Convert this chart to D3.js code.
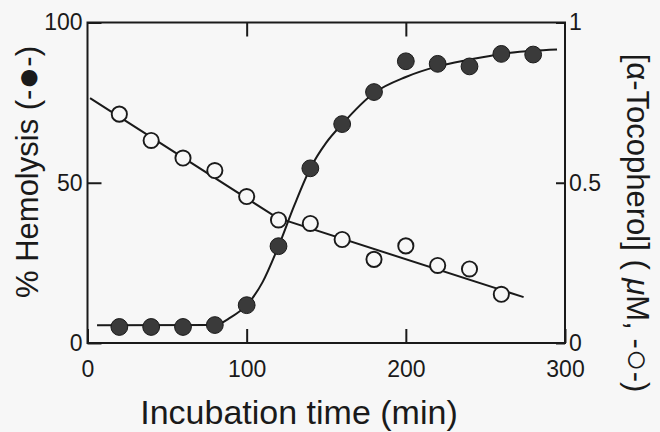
<!DOCTYPE html>
<html>
<head>
<meta charset="utf-8">
<script src="https://cdn.jsdelivr.net/npm/d3@7"></script>
<style>
  html, body { margin: 0; padding: 0; background: #f7f7f7; }
  svg { display: block; }
  text { font-family: "Liberation Sans", Arial, Helvetica, sans-serif; fill: #1a1a1a; }
</style>
</head>
<body>
<div id="chart"></div>
<script>
// measured points (min)
const hemoTimes = [20, 40, 60, 80, 100, 120, 140, 160, 180, 200, 220, 240, 260, 280];
const hemolysis = [5.0, 5.0, 5.0, 5.6, 11.8, 30.2, 54.5, 68.3, 78.3, 87.9, 87.1, 86.3, 90.2, 90.0];

const tocoTimes = [20, 40, 60, 80, 100, 120, 140, 160, 180, 200, 220, 240, 260];
const tocopherol = [0.714, 0.632, 0.577, 0.538, 0.457, 0.384, 0.373, 0.323, 0.261, 0.303, 0.242, 0.231, 0.152];

// hand drawn sigmoid through the hemolysis data
const curveTimes = [6, 80, 90, 100, 110, 120, 130, 140, 150, 160, 180, 200, 220, 240, 260, 280, 295];
const curveHemo = [5.5, 5.6, 8.0, 11.8, 19.0, 30.2, 43.0, 54.5, 62.5, 68.3, 78.0, 83.0, 86.3, 88.4, 90.2, 91.2, 91.6];

// two straight fit segments through the tocopherol data
const fitTimes = [1.6, 119, 274];
const fitToco = [0.764, 0.391, 0.143];

const xTicks = [0, 100, 200, 300];
const leftTicks = [0, 50, 100];
const rightTicks = [0, 0.5, 1];

const width = 660, height = 432;
const margin = { top: 22.5, right: 95, bottom: 89, left: 87.5 };

const svg = d3.select("#chart").append("svg")
  .attr("width", width)
  .attr("height", height);

svg.append("rect")
  .attr("width", width).attr("height", height)
  .attr("fill", "#f7f7f7");

const x = d3.scaleLinear().domain([0, 300]).range([margin.left, width - margin.right]);
const yL = d3.scaleLinear().domain([0, 100]).range([height - margin.bottom, margin.top]);
const yR = d3.scaleLinear().domain([0, 1]).range([height - margin.bottom, margin.top]);

// axes (ticks point inward)
const axisStyle = (g) => {
  g.select(".domain").remove();
  g.selectAll(".tick line").attr("stroke", "#1a1a1a").attr("stroke-width", 2);
  g.selectAll(".tick text").attr("font-size", 23).attr("fill", "#1a1a1a");
};

svg.append("g")
  .attr("transform", `translate(0,${yL(0)})`)
  .call(d3.axisBottom(x).tickValues(xTicks).tickSize(-14).tickPadding(18).tickFormat(d3.format("d")))
  .call(axisStyle);

svg.append("g")
  .attr("transform", `translate(0,${yL(100)})`)
  .call(d3.axisTop(x).tickValues([100, 200]).tickSize(-14).tickFormat(""))
  .call(axisStyle);

svg.append("g")
  .attr("transform", `translate(${x(0)},0)`)
  .call(d3.axisLeft(yL).tickValues(leftTicks).tickSize(-14).tickPadding(5).tickFormat(d3.format("d")))
  .call(axisStyle);

svg.append("g")
  .attr("transform", `translate(${x(300)},0)`)
  .call(d3.axisRight(yR).tickValues(rightTicks).tickSize(-9).tickPadding(4).tickFormat((d) => d === 0.5 ? "0.5" : d3.format("d")(d)))
  .call(axisStyle);

// frame
svg.append("rect")
  .attr("x", x(0)).attr("y", yL(100))
  .attr("width", x(300) - x(0)).attr("height", yL(0) - yL(100))
  .attr("fill", "none")
  .attr("stroke", "#1a1a1a")
  .attr("stroke-width", 2);

// fit lines
const hemoCurve = curveTimes.map((t, i) => [t, curveHemo[i]]);
svg.append("path")
  .datum(hemoCurve)
  .attr("fill", "none")
  .attr("stroke", "#1a1a1a")
  .attr("stroke-width", 2)
  .attr("d", d3.line().x((d) => x(d[0])).y((d) => yL(d[1])).curve(d3.curveMonotoneX));

const tocoLine = fitTimes.map((t, i) => [t, fitToco[i]]);
svg.append("path")
  .datum(tocoLine)
  .attr("fill", "none")
  .attr("stroke", "#1a1a1a")
  .attr("stroke-width", 2)
  .attr("d", d3.line().x((d) => x(d[0])).y((d) => yR(d[1])));

// open circles: tocopherol
svg.append("g").selectAll("circle")
  .data(tocoTimes.map((t, i) => ({ t, v: tocopherol[i] })))
  .join("circle")
  .attr("cx", (d) => x(d.t))
  .attr("cy", (d) => yR(d.v))
  .attr("r", 7.6)
  .attr("fill", "#f7f7f7")
  .attr("stroke", "#1a1a1a")
  .attr("stroke-width", 1.9);

// filled circles: hemolysis
svg.append("g").selectAll("circle")
  .data(hemoTimes.map((t, i) => ({ t, v: hemolysis[i] })))
  .join("circle")
  .attr("cx", (d) => x(d.t))
  .attr("cy", (d) => yL(d.v))
  .attr("r", 8.4)
  .attr("fill", "#3a3a3a")
  .attr("stroke", "#1a1a1a")
  .attr("stroke-width", 1);

// axis titles
svg.append("text")
  .attr("x", 299).attr("y", 424)
  .attr("text-anchor", "middle")
  .attr("font-size", 34)
  .text("Incubation time (min)");

const lt = svg.append("text")
  .attr("transform", "translate(38,172) rotate(-90)")
  .attr("text-anchor", "middle")
  .attr("font-size", 31);
lt.append("tspan").text("% Hemolysis (-");
lt.append("tspan").attr("font-size", 38).attr("dy", 2).text("●");
lt.append("tspan").attr("dy", -2).text("-)");

const rt = svg.append("text")
  .attr("transform", "translate(627,223) rotate(90)")
  .attr("text-anchor", "middle")
  .attr("font-size", 31);
rt.append("tspan").text("[α-Tocopherol] ( ");
rt.append("tspan").attr("font-style", "italic").text("μ");
rt.append("tspan").text("M, -");
rt.append("tspan").attr("font-size", 38).attr("dy", 2).text("○");
rt.append("tspan").attr("dy", -2).text("-)");
</script>
</body>
</html>
